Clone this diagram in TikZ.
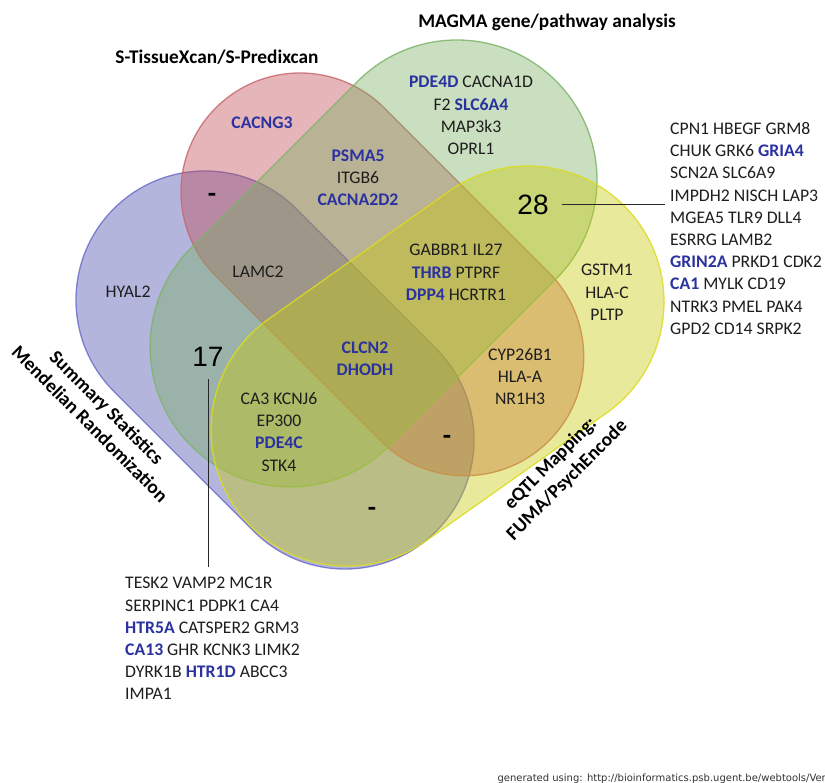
\documentclass[tikz,border=0pt]{standalone}
\usepackage{fontspec}
\setmainfont{Carlito}
\newfontfamily\numfont{Liberation Sans}
\newfontfamily\footfont{DejaVu Sans}
\usetikzlibrary{calc}
\definecolor{redF}{RGB}{193,70,80}
\definecolor{greenF}{RGB}{120,175,97}
\definecolor{blueF}{RGB}{65,72,170}
\definecolor{yellowF}{RGB}{200,202,7}
\definecolor{redD}{RGB}{200,105,110}
\definecolor{greenD}{RGB}{125,180,105}
\definecolor{blueD}{RGB}{110,110,200}
\definecolor{yellowD}{RGB}{220,220,30}
\definecolor{genblue}{RGB}{42,50,160}
\definecolor{txt}{RGB}{30,30,30}
\newcommand{\hl}[1]{\textbf{\color{genblue}#1}}
% stadium: centre of first cap (x,y), axis angle, length, radius, style
\newcommand{\stadium}[6]{%
  \path[#6] (#1,#2) ++(#3-90:#5) -- ++(#3:#4)
    arc[start angle=#3-90, end angle=#3+90, radius=#5]
    -- ++(#3+180:#4)
    arc[start angle=#3+90, end angle=#3+270, radius=#5] -- cycle;}
\begin{document}
\begin{tikzpicture}[x=1pt,y=-1pt,
  setshape/.style={line width=1.3pt, fill opacity=0.4, draw opacity=0.85},
  gene/.style={font=\fontsize{17.7}{22.2}\selectfont, text=txt, align=center, inner sep=0pt, anchor=north},
  glist/.style={gene, align=left, anchor=north west},
  title/.style={font=\fontsize{19.3}{24}\selectfont\bfseries, text=black, inner sep=0pt, anchor=base},
  biglabel/.style={font=\fontsize{19.3}{23.5}\selectfont\bfseries, text=black, align=center, inner sep=0pt},
  count/.style={font=\numfont\fontsize{28}{30}\selectfont, text=black, inner sep=0pt},
  emptyset/.style={font=\fontsize{27}{28}\selectfont\bfseries, text=black, inner sep=0pt, anchor=base},
  leader/.style={line width=1pt, black!85}
]
\useasboundingbox (0,0) rectangle (825,783);
\fill[white] (0,0) rectangle (825,783);

% sets
\stadium{205}{300}{45}{198}{129}{setshape, fill=blueF, draw=blueD}
\stadium{300}{192}{45}{233}{119}{setshape, fill=redF, draw=redD}
\stadium{457}{180}{135}{236}{140}{setshape, fill=greenF, draw=greenD}
\stadium{528}{302}{144.7}{221.7}{136}{setshape, fill=yellowF, draw=yellowD}

% titles
\node[title] (tmagma) at (547,27.2) {MAGMA gene/pathway analysis};
\node[title] (ttiss) at (217,63.2) {S-TissueXcan/S-Predixcan};
\node[biglabel, rotate=-45] (lblB) at (98.5,415.5) {Summary Statistics\\Mendelian Randomization};
\node[biglabel, rotate=45] (lblY) at (559,472) {eQTL Mapping:\\FUMA/PsychEncode};

% regions
\node[gene] (gG) at (471,76.3) {\hl{PDE4D} CACNA1D\\F2 \hl{SLC6A4}\\MAP3k3\\OPRL1};
\node[gene] (gR) at (262,116.3) {\hl{CACNG3}};
\node[gene] (gRG) at (358,149.3) {\hl{PSMA5}\\ITGB6\\\hl{CACNA2D2}};
\node[emptyset] (eRB) at (212,203) {-};
\node[count] (n28) at (533,205) {28};
\node[glist] (l28) at (670,122.3) {CPN1 HBEGF GRM8\\CHUK GRK6 \hl{GRIA4}\\SCN2A SLC6A9\\IMPDH2 NISCH LAP3\\MGEA5 TLR9 DLL4\\ESRRG LAMB2\\\hl{GRIN2A} PRKD1 CDK2\\\hl{CA1} MYLK CD19\\NTRK3 PMEL PAK4\\GPD2 CD14 SRPK2};
\node[gene] (gRGY) at (456,244.3) {GABBR1 IL27\\\hl{THRB} PTPRF\\\hl{DPP4} HCRTR1};
\node[gene] (gY) at (607,264.3) {GSTM1\\HLA-C\\PLTP};
\node[gene] (gRY) at (520,348.3) {CYP26B1\\HLA-A\\NR1H3};
\node[gene] (gRGB) at (258,266.3) {LAMC2};
\node[gene] (gB) at (128,286.3) {HYAL2};
\node[count] (n17) at (208,357) {17};
\node[gene] (gAll) at (365,341.3) {\hl{CLCN2}\\\hl{DHODH}};
\node[gene] (gGBY) at (279,392.3) {CA3 KCNJ6\\EP300\\\hl{PDE4C}\\STK4};
\node[emptyset] (eRBY) at (447,445) {-};
\node[emptyset] (eBY) at (372,516) {-};
\node[glist] (l17) at (125,577.3) {TESK2 VAMP2 MC1R\\SERPINC1 PDPK1 CA4\\\hl{HTR5A} CATSPER2 GRM3\\\hl{CA13} GHR KCNK3 LIMK2\\DYRK1B \hl{HTR1D} ABCC3\\IMPA1};

% leaders
\draw[leader, shorten <=13.5pt, shorten >=5pt] (n28.east) -- (n28.east -| l28.west);
\draw[leader, shorten <=12pt, shorten >=10pt] (n17.south) -- (n17.south |- l17.north);

% footer
\node[font=\footfont\fontsize{10}{12}\selectfont, text=black!80, anchor=base east, inner sep=0pt] (foot) at (826,781) {generated using: http://bioinformatics.psb.ugent.be/webtools/Ver};
\end{tikzpicture}
\end{document}
